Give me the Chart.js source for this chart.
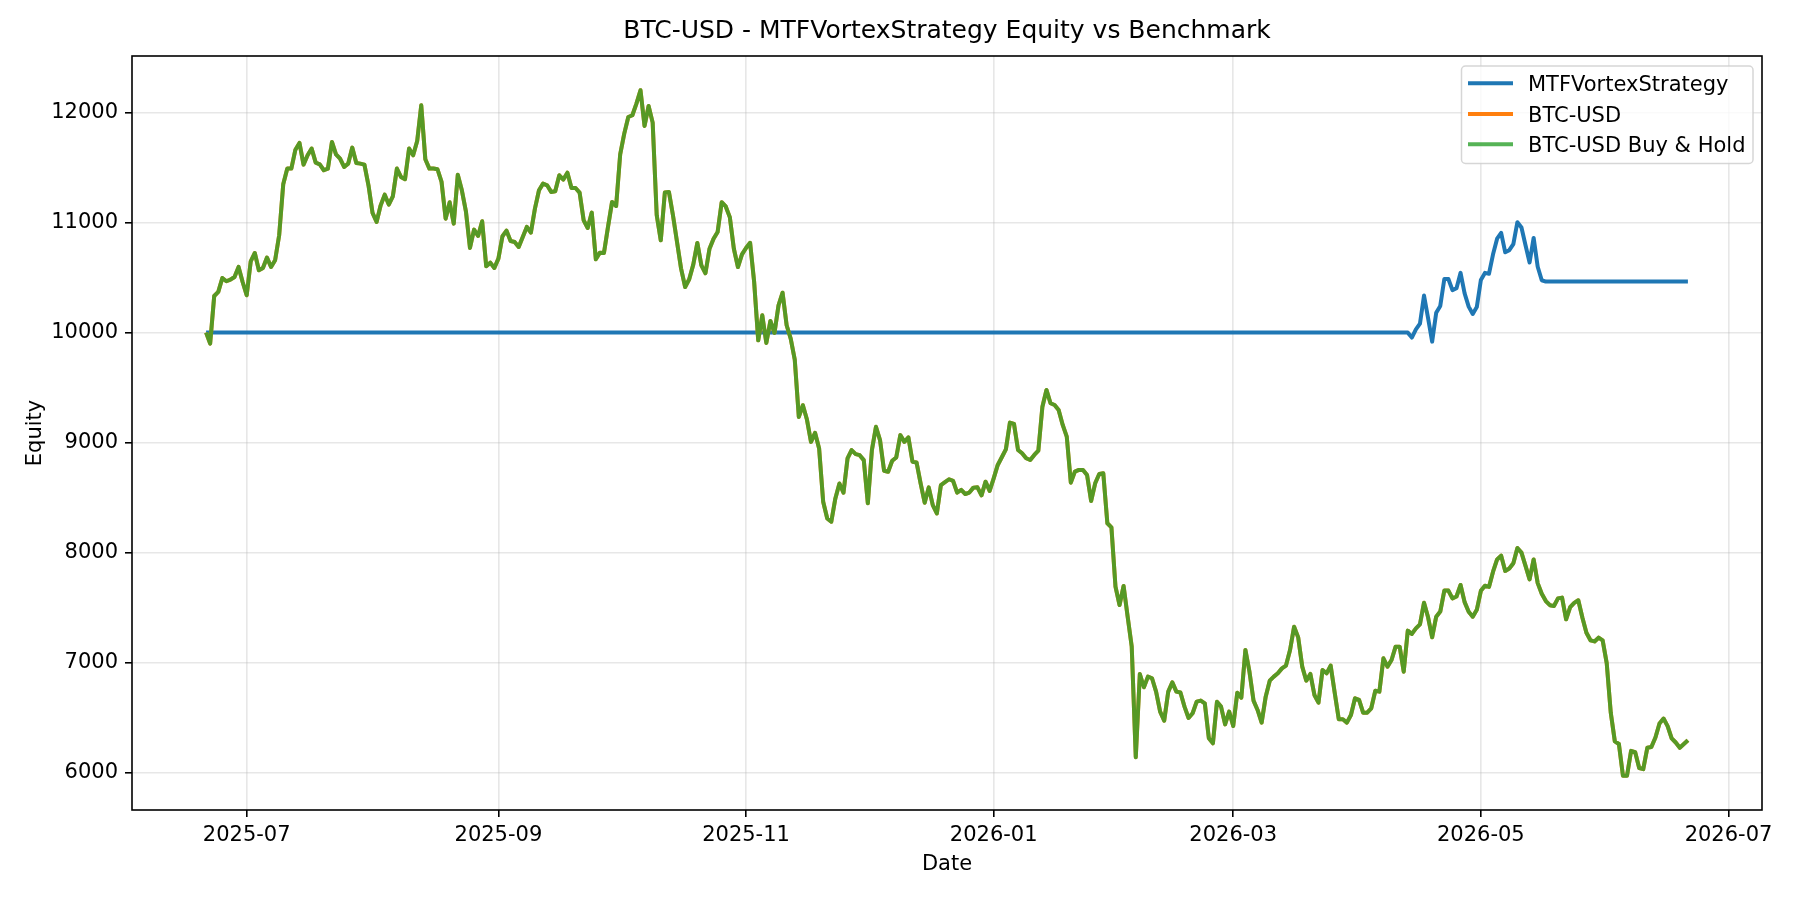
<!DOCTYPE html>
<html>
<head>
<meta charset="utf-8">
<title>BTC-USD - MTFVortexStrategy Equity vs Benchmark</title>
<script src="https://cdn.jsdelivr.net/npm/chart.js@4.4.1/dist/chart.umd.min.js"></script>
<style>
  html, body { margin: 0; padding: 0; background: #fff; }
  canvas { display: block; }
</style>
</head>
<body>
<canvas id="chart" width="1800" height="900"></canvas>
<script>
const chartTitle = "BTC-USD - MTFVortexStrategy Equity vs Benchmark";
const seriesNames = ["MTFVortexStrategy", "BTC-USD", "BTC-USD Buy & Hold"];

// Buy & hold equity, one value per day starting at firstDay
const firstDay = "2025-06-21";
const btcEquity = [
  // 2025-06-21 .. 06-30
  10000, 9900, 10333, 10370, 10497, 10467, 10482, 10506, 10597, 10460,
  // July
  10340, 10648, 10724, 10567, 10588, 10682, 10597, 10658, 10885, 11348,
  11491, 11491, 11663, 11724, 11527, 11612, 11673, 11545, 11530, 11476,
  11491, 11733, 11621, 11582, 11506, 11536, 11682, 11542, 11536, 11527, 11339,
  // August
  11088, 11006, 11157, 11254, 11164, 11239, 11491, 11415, 11394, 11673,
  11612, 11742, 12066, 11576, 11491, 11491, 11485, 11370, 11036, 11185,
  10991, 11436, 11294, 11103, 10770, 10936, 10879, 11012, 10603, 10636, 10588,
  // September
  10673, 10876, 10927, 10833, 10824, 10779, 10870, 10961, 10909, 11127,
  11294, 11354, 11339, 11279, 11285, 11430, 11391, 11454, 11315, 11315,
  11273, 11021, 10951, 11091, 10667, 10727, 10724, 10961, 11188, 11151,
  // October
  11621, 11809, 11960, 11976, 12082, 12203, 11879, 12060, 11909, 11067,
  10839, 11273, 11279, 11067, 10824, 10582, 10415, 10485, 10618, 10815,
  10612, 10540, 10762, 10853, 10914, 11186, 11147, 11050, 10762, 10596, 10711,
  // November
  10769, 10817, 10460, 9930, 10157, 9906, 10106, 9997, 10248, 10363,
  10067, 9946, 9755, 9234, 9340, 9210, 9007, 9089, 8947, 8463,
  8311, 8281, 8493, 8629, 8544, 8856, 8932, 8896, 8886, 8841,
  // December
  8448, 8932, 9144, 9023, 8744, 8735, 8835, 8865, 9068, 9007,
  9047, 8826, 8820, 8629, 8454, 8593, 8432, 8357, 8614, 8640,
  8667, 8652, 8546, 8570, 8533, 8546, 8591, 8594, 8521, 8645, 8561,
  // January 2026
  8676, 8797, 8867, 8939, 9182, 9170, 8933, 8903, 8858, 8842,
  8888, 8927, 9327, 9479, 9358, 9342, 9297, 9161, 9055, 8636,
  8736, 8752, 8752, 8706, 8470, 8630, 8715, 8721, 8267, 8230, 7691,
  // February
  7524, 7697, 7418, 7146, 6140, 6897, 6776, 6873, 6858, 6737,
  6555, 6473, 6737, 6821, 6737, 6728, 6600, 6497, 6540, 6646,
  6655, 6630, 6312, 6267, 6645, 6600, 6439, 6555,
  // March
  6424, 6727, 6682, 7115, 6918, 6655, 6570, 6455, 6691, 6836,
  6873, 6903, 6948, 6973, 7115, 7327, 7230, 6964, 6836, 6897,
  6706, 6636, 6933, 6903, 6973, 6727, 6485, 6485, 6455, 6524, 6676,
  // April
  6661, 6545, 6545, 6585, 6745, 6736, 7039, 6964, 7024, 7145,
  7145, 6918, 7291, 7261, 7312, 7348, 7545, 7412, 7230, 7418,
  7464, 7655, 7655, 7584, 7601, 7706, 7550, 7463, 7418, 7480,
  // May
  7653, 7699, 7688, 7827, 7938, 7972, 7834, 7855, 7903, 8042,
  8000, 7879, 7757, 7938, 7723, 7626, 7560, 7522, 7515, 7584,
  7591, 7394, 7504, 7543, 7567, 7411, 7272, 7203, 7193, 7227, 7203,
  // June 1 .. 21
  6995, 6544, 6284, 6260, 5972, 5972, 6198, 6187, 6042, 6032,
  6226, 6233, 6319, 6447, 6492, 6423, 6312, 6274, 6226, 6260, 6295
];

// Strategy equity: flat in cash, then in the market from mid April
const stratDates = [
  "2025-06-21", "2026-04-13", "2026-04-14", "2026-04-15", "2026-04-16",
  "2026-04-17", "2026-04-18", "2026-04-19", "2026-04-20", "2026-04-21",
  "2026-04-22", "2026-04-23", "2026-04-24", "2026-04-25", "2026-04-26",
  "2026-04-27", "2026-04-28", "2026-04-29", "2026-04-30", "2026-05-01",
  "2026-05-02", "2026-05-03", "2026-05-04", "2026-05-05", "2026-05-06",
  "2026-05-07", "2026-05-08", "2026-05-09", "2026-05-10", "2026-05-11",
  "2026-05-12", "2026-05-13", "2026-05-14", "2026-05-15", "2026-05-16",
  "2026-05-17", "2026-06-21"
];
const stratValues = [
  10000, 10000, 9955, 10030, 10082,
  10337, 10131, 9918, 10180, 10243,
  10487, 10487, 10386, 10404, 10543,
  10356, 10236, 10169, 10232, 10479,
  10543, 10535, 10712, 10854, 10906,
  10730, 10749, 10805, 11004, 10955,
  10794, 10637, 10861, 10599, 10476,
  10464, 10464
];

const xTickMonths = ["2025-07", "2025-09", "2025-11", "2026-01", "2026-03", "2026-05", "2026-07"];
const yTicks = [6000, 7000, 8000, 9000, 10000, 11000, 12000];

const colors = ["#1f77b4", "#ff7f0e", "rgba(44,160,44,0.8)"];
const FONT = '"DejaVu Sans", sans-serif';

const DAY = 86400000;
const toTime = (s) => Date.parse(s + (s.length === 7 ? "-01" : "") + "T00:00:00Z");

const t0 = toTime(firstDay);
const btcPoints = btcEquity.map((v, i) => ({ x: t0 + i * DAY, y: v }));
const stratPoints = stratDates.map((d, i) => ({ x: toTime(d), y: stratValues[i] }));

// matplotlib style 5% margins
const xFirst = t0;
const xLast = t0 + (btcEquity.length - 1) * DAY;
const xPad = (xLast - xFirst) * 0.05;
const allY = btcEquity.concat(stratValues);
const yLo = Math.min(...allY);
const yHi = Math.max(...allY);
const yPad = (yHi - yLo) * 0.05;

// Title, axis labels, spines and legend in matplotlib style
const decorations = {
  id: "decorations",
  afterDraw(chart) {
    const { ctx, chartArea: a } = chart;
    ctx.save();

    ctx.strokeStyle = "#000";
    ctx.lineWidth = 1.6;
    ctx.strokeRect(a.left, a.top, a.right - a.left, a.bottom - a.top);

    ctx.fillStyle = "#000";
    ctx.textAlign = "center";
    ctx.textBaseline = "alphabetic";
    ctx.font = "25px " + FONT;
    ctx.fillText(chartTitle, (a.left + a.right) / 2, 38);

    ctx.font = "21px " + FONT;
    ctx.fillText("Date", (a.left + a.right) / 2, 870);

    ctx.save();
    ctx.translate(41, (a.top + a.bottom) / 2);
    ctx.rotate(-Math.PI / 2);
    ctx.fillText("Equity", 0, 0);
    ctx.restore();

    // legend box, upper right
    const bx = 1461.5, by = 66, bw = 291.5, bh = 97.5, r = 4;
    ctx.beginPath();
    ctx.roundRect(bx, by, bw, bh, r);
    ctx.fillStyle = "rgba(255,255,255,0.8)";
    ctx.fill();
    ctx.strokeStyle = "rgba(204,204,204,0.8)";
    ctx.lineWidth = 1.5;
    ctx.stroke();

    const rowY = [83.3, 114, 144.3];
    const legendColors = ["#1f77b4", "#ff7f0e", "rgba(44,160,44,0.8)"];
    ctx.textAlign = "left";
    seriesNames.forEach((name, i) => {
      ctx.beginPath();
      ctx.moveTo(1468, rowY[i]);
      ctx.lineTo(1513, rowY[i]);
      ctx.strokeStyle = legendColors[i];
      ctx.lineWidth = 4;
      ctx.stroke();
      ctx.fillStyle = "#000";
      ctx.fillText(name, 1528, rowY[i] + 7.6);
    });

    ctx.restore();
  }
};

new Chart(document.getElementById("chart"), {
  type: "line",
  data: {
    datasets: [
      {
        label: seriesNames[0],
        data: stratPoints,
        borderColor: colors[0],
        borderWidth: 4,
        pointRadius: 0,
        order: 2
      },
      {
        label: seriesNames[1],
        data: btcPoints,
        borderColor: colors[1],
        borderWidth: 4,
        pointRadius: 0,
        order: 1
      },
      {
        label: seriesNames[2],
        data: btcPoints,
        borderColor: colors[2],
        borderWidth: 4,
        pointRadius: 0,
        order: 0
      }
    ]
  },
  options: {
    responsive: false,
    animation: false,
    devicePixelRatio: 1,
    events: [],
    elements: { line: { tension: 0, borderJoinStyle: "round" } },
    layout: { padding: { top: 56, right: 38, left: 0, bottom: 0 } },
    plugins: {
      legend: { display: false },
      title: { display: false },
      tooltip: { enabled: false }
    },
    scales: {
      x: {
        type: "linear",
        min: xFirst - xPad,
        max: xLast + xPad,
        afterFit: (s) => { s.height = 90; },
        afterBuildTicks: (s) => { s.ticks = xTickMonths.map((m) => ({ value: toTime(m) })); },
        border: { display: false },
        grid: {
          color: "rgba(176,176,176,0.3)",
          lineWidth: 1.6,
          tickColor: "#000",
          tickLength: 7,
          tickWidth: 1.6
        },
        ticks: {
          autoSkip: false,
          maxRotation: 0,
          padding: 6,
          color: "#000",
          font: { family: FONT, size: 21 },
          callback: (v) => {
            const d = new Date(v);
            return d.getUTCFullYear() + "-" + String(d.getUTCMonth() + 1).padStart(2, "0");
          }
        }
      },
      y: {
        type: "linear",
        min: yLo - yPad,
        max: yHi + yPad,
        afterFit: (s) => { s.width = 132; },
        afterBuildTicks: (s) => { s.ticks = yTicks.map((v) => ({ value: v })); },
        border: { display: false },
        grid: {
          color: "rgba(176,176,176,0.3)",
          lineWidth: 1.6,
          tickColor: "#000",
          tickLength: 7,
          tickWidth: 1.6
        },
        ticks: {
          padding: 7,
          color: "#000",
          font: { family: FONT, size: 21 },
          callback: (v) => String(v)
        }
      }
    }
  },
  plugins: [decorations]
});
</script>
</body>
</html>
